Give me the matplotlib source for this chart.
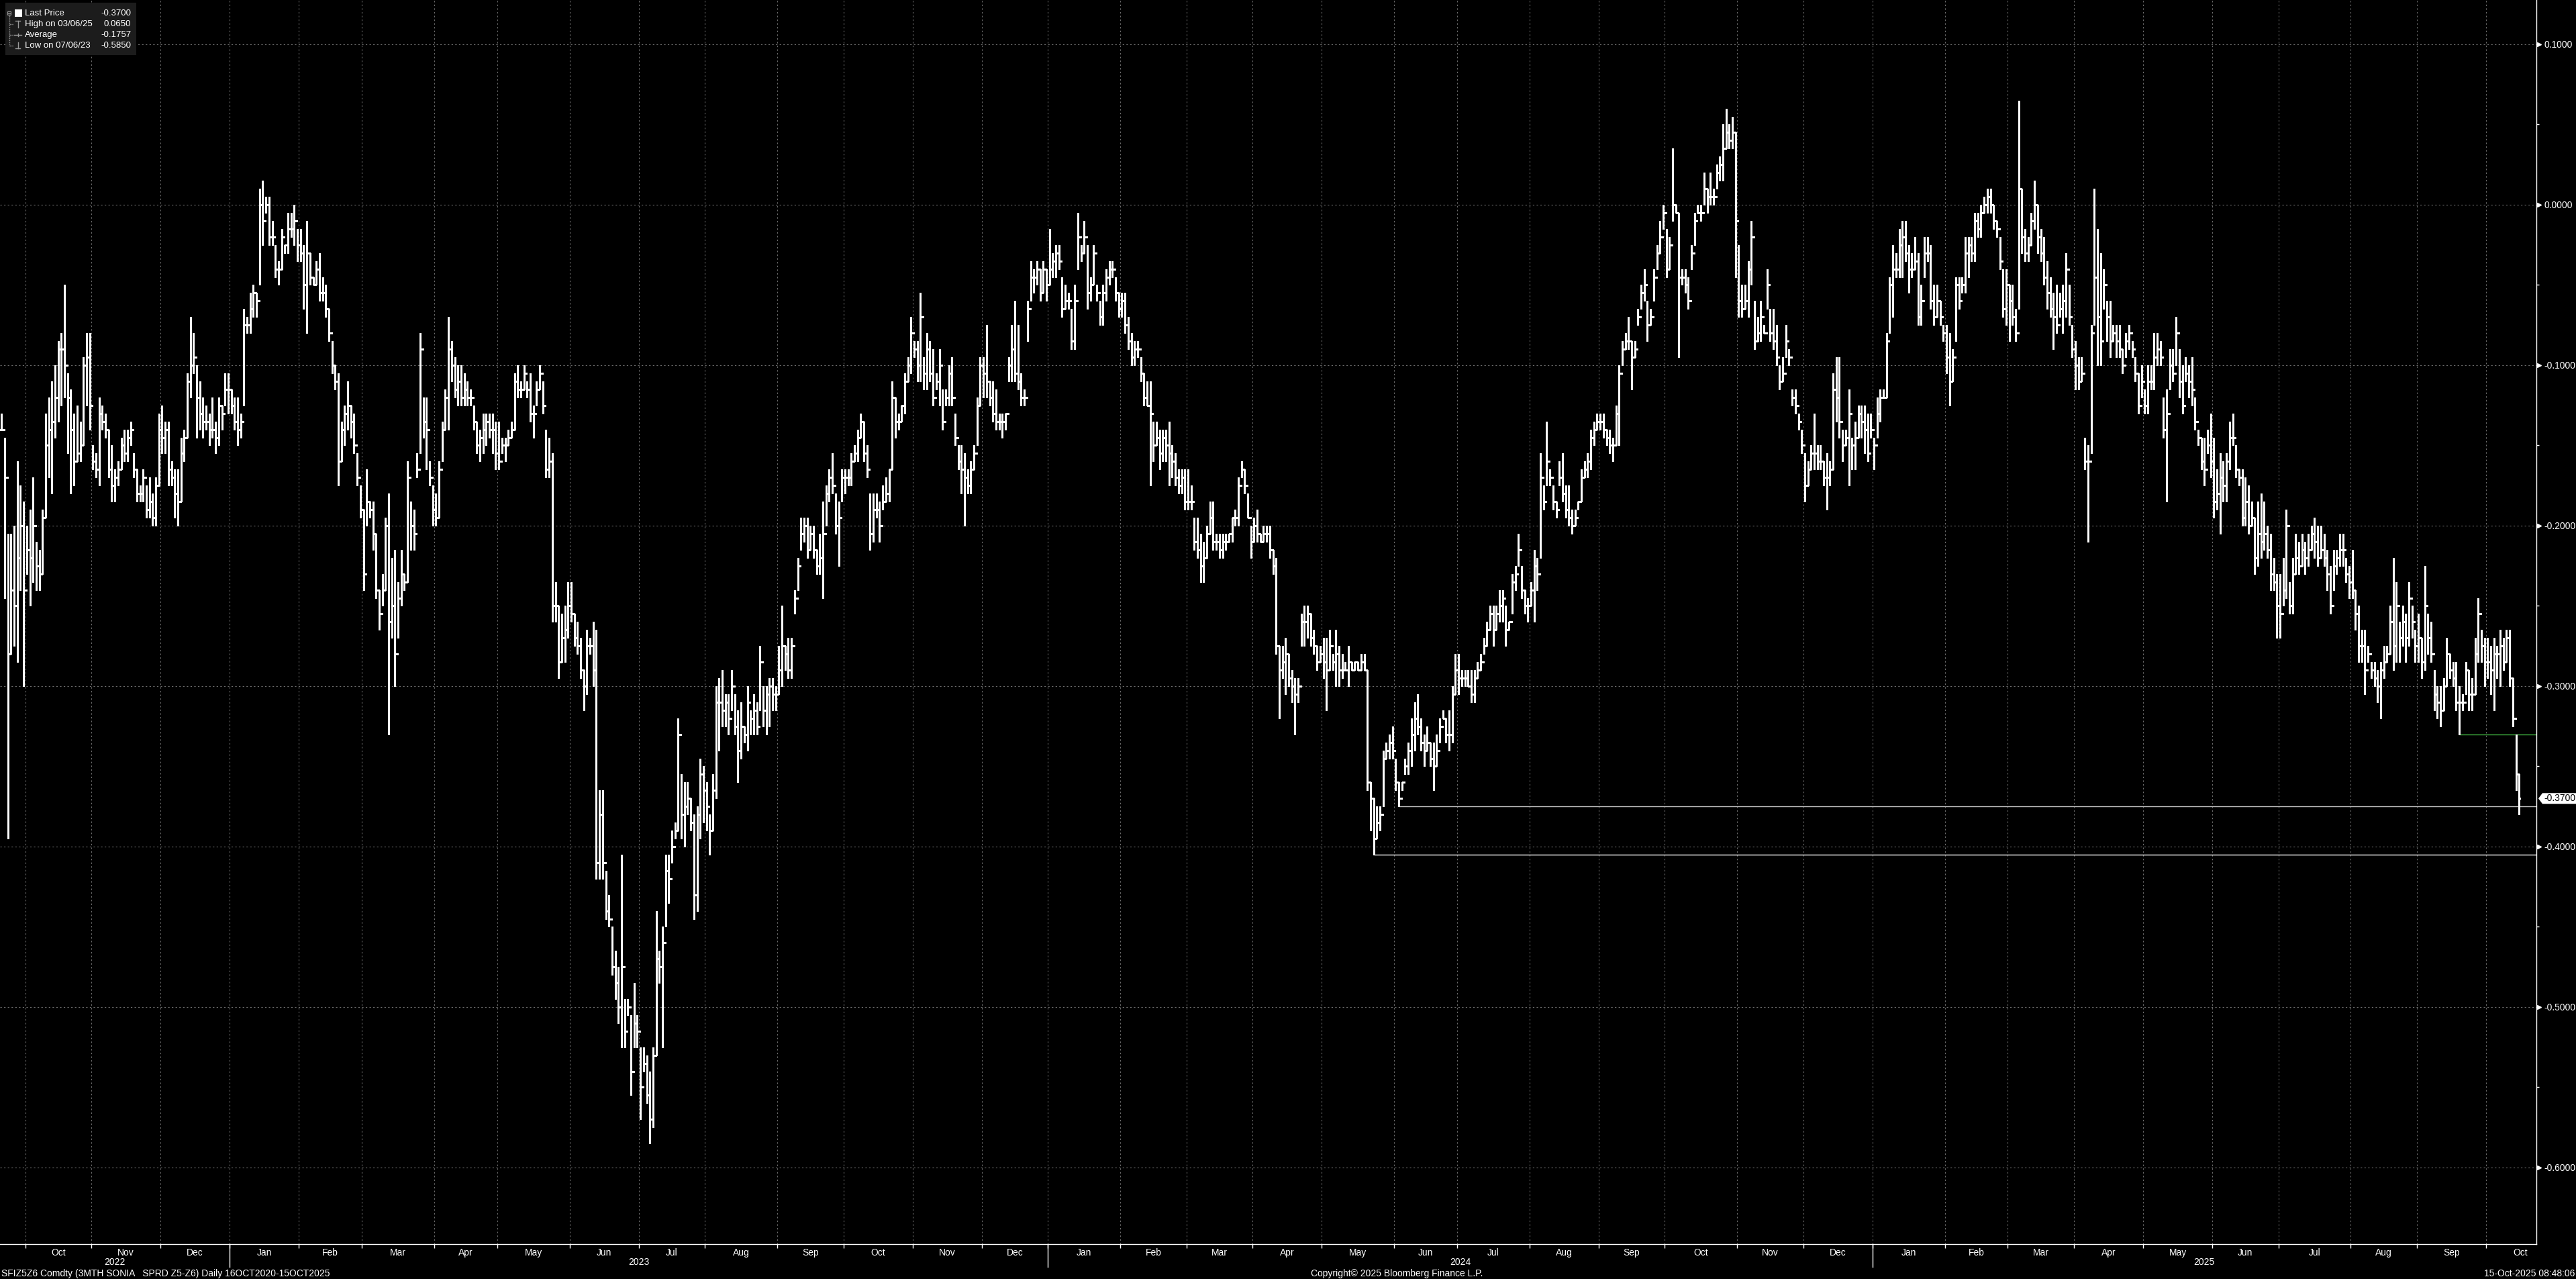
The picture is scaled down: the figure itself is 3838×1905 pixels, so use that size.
import numpy as np
import matplotlib
matplotlib.use("Agg")
import matplotlib.pyplot as plt
import matplotlib.transforms as mtransforms
from matplotlib.collections import LineCollection
from matplotlib.patches import Rectangle, Polygon
from matplotlib.ticker import FixedLocator

# daily bars as (high, low, close), in basis points, one list per month
sep22 = [(-13, -14, -14), (-14.5, -24.5, -17), (-20.5, -39.5, -28), (-20.5, -28, -24), (-20, -27.5, -25),
         (-16, -28.5, -22), (-17.5, -24, -20), (-18.5, -30, -24)]
oct22 = [(-20, -23, -21.5), (-19, -25, -22), (-17, -23.5, -20), (-21, -24, -22.5), (-21.5, -24, -23),
         (-19, -23, -19.5), (-13, -19.5, -15), (-12, -17, -14), (-11, -18, -13.5), (-10, -14.5, -12),
         (-8.5, -13.5, -9), (-8, -12.5, -9), (-5, -12, -10), (-10.5, -15.5, -12), (-11.5, -18, -14),
         (-13, -17.5, -16), (-12.5, -16, -15.5), (-13.5, -16, -15), (-9.5, -15, -10), (-8, -12.5, -9.5),
         (-8, -14, -12.5)]
nov22 = [(-15, -16.5, -16), (-15.5, -17, -16.5), (-12, -17.5, -13), (-12.5, -14, -13.5), (-13, -14.5, -14),
         (-14, -17, -16.5), (-15, -18.5, -17.5), (-16.5, -18.5, -17), (-16, -17.5, -16.5), (-14.5, -16.5, -15),
         (-14, -16, -15.5), (-14, -16, -14.5), (-13.5, -15, -14), (-15.5, -17, -16.5), (-16.5, -18.5, -18),
         (-17.5, -18.5, -18), (-16.5, -18.5, -17), (-17.5, -19.5, -19), (-17, -19.5, -18.5), (-18, -20, -19.5),
         (-17, -20, -17.5), (-13, -17.5, -14)]
dec22 = [(-12.5, -15.5, -14.5), (-13.5, -15.5, -14), (-13.5, -17.5, -16.5), (-16, -17.5, -17), (-16.5, -19.5, -18),
         (-16.5, -20, -18.5), (-14.5, -18.5, -15.5), (-14, -16, -14.5), (-10.5, -14.5, -11), (-7, -12, -10),
         (-8, -10.5, -9.5), (-10, -14.5, -12), (-11, -14, -13), (-12, -14.5, -13.5), (-12.5, -14, -13.5),
         (-13, -15, -14), (-12, -14.5, -14), (-13.5, -15.5, -14.5), (-12, -15, -12.5), (-12.5, -14, -13),
         (-10.5, -12.5, -11.5), (-10.5, -13, -11.5)]
jan23 = [(-11.5, -13, -12.5), (-12, -14, -13.5), (-12, -15, -14), (-13, -14.5, -13.5), (-6.5, -12.5, -7.5),
         (-7, -8, -7.5), (-5.5, -8, -6.5), (-5, -7, -5.5), (-5.5, -7, -6), (1, -5, 0),
         (1.5, -2.5, -1), (0.5, -0.5, 0), (0.5, -2.5, -2), (-1, -2.5, -2), (-2.5, -4.5, -4),
         (-3.5, -5, -4), (-1.5, -4, -2), (-2.5, -3, -2.5), (-0.5, -3, -1.5), (-0.5, -2, -1.5),
         (0, -2.5, -1), (-1.5, -3.5, -2.5)]
feb23 = [(-1.5, -3.5, -3), (-2.5, -6.5, -5), (-1, -8, -3), (-3, -5, -4.5), (-4.5, -5, -5),
         (-3.5, -5, -4), (-3, -6, -5.5), (-4.5, -6, -5.5), (-5, -7, -6.5), (-6.5, -8.5, -8),
         (-8.5, -10.5, -10), (-10, -11.5, -11), (-10.5, -17.5, -16), (-13.5, -16, -14), (-12.5, -15, -13),
         (-11, -14, -12.5), (-12.5, -14.5, -13.5), (-13, -15.5, -15), (-15.5, -17.5, -17), (-17.5, -19.5, -19)]
mar23 = [(-19, -24, -23), (-16.5, -20, -18.5), (-18.5, -19.5, -19), (-18.5, -21.5, -20.5), (-20.5, -24.5, -24),
         (-24, -26.5, -25.5), (-23, -25, -24), (-19.5, -24, -20), (-18, -33, -26), (-22, -27, -25),
         (-21.5, -30, -28), (-23.5, -27, -24.5), (-21.5, -25, -23), (-23, -24, -23.5), (-16, -23.5, -17),
         (-18.5, -21.5, -20), (-19, -21.5, -20.5), (-15.5, -17, -16.5), (-8, -15.5, -9), (-12, -14.5, -13.5),
         (-12, -16.5, -14), (-16, -17.5, -17), (-17.5, -20, -19)]
apr23 = [(-18, -20, -19.5), (-16, -19.5, -16.5), (-13.5, -16, -14), (-11.5, -14, -12), (-7, -14, -9),
         (-8.5, -11, -10), (-9.5, -12, -11.5), (-10, -12.5, -11), (-10, -12.5, -12), (-10.5, -12.5, -11.5),
         (-11, -12.5, -12), (-11.5, -12.5, -12), (-12.5, -14, -13.5), (-13.5, -15.5, -15), (-14, -16, -14.5),
         (-13, -15.5, -14), (-13, -15, -13.5), (-13, -14.5, -14), (-13, -15.5, -14), (-13.5, -16.5, -15.5)]
may23 = [(-13.5, -16.5, -16), (-14.5, -15.5, -15), (-14.5, -16, -15), (-14, -15, -14.5), (-13.5, -14.5, -14),
         (-10.5, -14, -11), (-10, -12, -11.5), (-11, -12, -11.5), (-10, -11.5, -10.5), (-11, -12, -11.5),
         (-10.5, -13.5, -13), (-12.5, -14.5, -13), (-11, -12.5, -11.5), (-10, -11.5, -10.5), (-11, -13, -12.5),
         (-14, -17, -16.5), (-14.5, -17, -16), (-15.5, -26, -25), (-23.5, -26, -25), (-25, -29.5, -28.5),
         (-25.5, -28.5, -27), (-25, -28.5, -26.5), (-23.5, -27, -25)]
jun23 = [(-23.5, -26, -25.5), (-25.5, -27.5, -27), (-26, -28, -27.5), (-27, -29.5, -29), (-29, -31.5, -30),
         (-26.5, -30.5, -27.5), (-27, -28, -27.5), (-26, -30, -29), (-26.5, -42, -41), (-36.5, -42, -38),
         (-36.5, -42, -41), (-41.5, -44.5, -44), (-43, -45, -44.5), (-45, -48, -47.5), (-46.5, -49.5, -48.5),
         (-47.5, -51, -50), (-40.5, -52.5, -47.5), (-49.5, -52.5, -51.5), (-49.5, -50.5, -50), (-50.5, -55.5, -54),
         (-48.5, -52.5, -51), (-50.5, -52.5, -51.5)]
jul23 = [(-52.5, -57, -55), (-52.5, -54, -53.5), (-53, -56, -55.5), (-54, -58.5, -57), (-52.5, -57.5, -53),
         (-44, -53, -47), (-46.5, -48.5, -47.5), (-45, -52.5, -46), (-40.5, -45, -41.5), (-40.5, -43.5, -42),
         (-39, -41, -40), (-38.5, -39.5, -39), (-32, -39, -33), (-35.5, -39.5, -38), (-36, -40, -37.5),
         (-36, -38, -37), (-37, -39, -38.5), (-38, -44.5, -43), (-37.5, -44, -38), (-34.5, -39.5, -35.5),
         (-35, -38.5, -36.5)]
aug23 = [(-36, -39, -37.5), (-38, -40.5, -39), (-35.5, -39, -36.5), (-30, -37, -31), (-29.5, -34, -31),
         (-29, -32.5, -31.5), (-30.5, -32.5, -31), (-30.5, -33, -32), (-29, -31.5, -30), (-30.5, -33, -32.5),
         (-31.5, -36, -34), (-31, -34.5, -32.5), (-32.5, -33.5, -33), (-30, -34, -31), (-31.5, -33, -32),
         (-30.5, -33, -31.5), (-31, -33, -32.5), (-27.5, -31.5, -28.5), (-30, -32.5, -31.5), (-30, -33, -30.5),
         (-29.5, -32.5, -30), (-29.5, -31.5, -30.5), (-30, -31.5, -30.5)]
sep23 = [(-27.5, -30.5, -29), (-25, -30, -27.5), (-27.5, -29, -28), (-27, -29.5, -29), (-27, -29.5, -27.5),
         (-24, -25.5, -24.5), (-22, -24, -22.5), (-19.5, -21.5, -20.5), (-19.5, -21, -20), (-19.5, -22, -21.5),
         (-20, -21.5, -20.5), (-20, -22, -21.5), (-21.5, -23, -22.5), (-20.5, -23, -22), (-18.5, -24.5, -20.5),
         (-17.5, -20, -18), (-16.5, -18.5, -17), (-15.5, -18, -17.5), (-18, -20.5, -20), (-18.5, -22.5, -19.5),
         (-16.5, -18.5, -17)]
oct23 = [(-16.5, -18, -17), (-16.5, -17.5, -17), (-15.5, -17.5, -16), (-15, -16, -15.5), (-14, -16, -14.5),
         (-13, -14.5, -13.5), (-13.5, -16, -15.5), (-15, -17, -16.5), (-18, -21.5, -20.5), (-18, -21, -19),
         (-18, -19.5, -19), (-18.5, -21, -20), (-17.5, -19, -18.5), (-17, -18.5, -18), (-16.5, -18.5, -16.5),
         (-11, -16.5, -12), (-12, -14.5, -13.5), (-13, -14, -13.5), (-12.5, -13.5, -12.5), (-10.5, -13, -11),
         (-9.5, -11, -10), (-7, -10.5, -8)]
nov23 = [(-8.5, -9.5, -9), (-8.5, -11, -10), (-5.5, -11, -7), (-9.5, -11.5, -10.5), (-8, -11.5, -9),
         (-8.5, -11, -10.5), (-9, -12.5, -12), (-10.5, -11.5, -11), (-9, -12.5, -10), (-11.5, -14, -13.5),
         (-11.5, -12.5, -12), (-10, -12.5, -10.5), (-9.5, -12.5, -12), (-13, -15, -14.5), (-15, -16.5, -16),
         (-15, -18, -16.5), (-15.5, -20, -17), (-16.5, -18, -17.5), (-16, -18, -16.5), (-15, -16.5, -15.5),
         (-12, -15, -12.5), (-9.5, -12.5, -10)]
dec23 = [(-9.5, -12, -10.5), (-7.5, -12, -11), (-11, -12.5, -12), (-11, -13.5, -13), (-11.5, -14, -13.5),
         (-13, -14, -13.5), (-13, -14.5, -13.5), (-13, -14, -13), (-9.5, -11, -10), (-7.5, -11, -9),
         (-6, -11, -10.5), (-7.5, -11.5, -11), (-10.5, -12.5, -12), (-11.5, -12.5, -12), (-6, -8.5, -6.5),
         (-3.5, -6, -4.5), (-4, -5.5, -4.5), (-3.5, -5, -4), (-4, -6, -5.5), (-3.5, -5.5, -4),
         (-4, -6, -5)]
jan24 = [(-1.5, -5, -4), (-3, -4.5, -3.5), (-2.5, -4.5, -3), (-2.5, -4, -3.5), (-4.5, -7, -6.5),
         (-5, -6.5, -6), (-5.5, -6.5, -6), (-6.5, -9, -8.5), (-5, -9, -6), (-0.5, -4, -2),
         (-2.5, -3.5, -3), (-1, -3, -2), (-2.5, -6.5, -5.5), (-4.5, -6, -5), (-2.5, -5, -3),
         (-5, -6, -5.5), (-6, -7.5, -7), (-5, -7.5, -5.5), (-4, -6, -4.5), (-3.5, -5, -4),
         (-3.5, -4.5, -4), (-4.5, -6, -5.5), (-5.5, -7, -6.5)]
feb24 = [(-5.5, -7, -6), (-5.5, -8, -7.5), (-7, -9, -8.5), (-8, -10, -9.5), (-8.5, -10, -9),
         (-8.5, -9.5, -9), (-9.5, -11, -10.5), (-10.5, -12.5, -12), (-11, -12.5, -12.5), (-11, -17.5, -13),
         (-13.5, -16, -15), (-13.5, -15, -14.5), (-14, -16.5, -15.5), (-14, -16, -14.5), (-14, -16, -15),
         (-13.5, -17.5, -15.5), (-15, -17, -16), (-15.5, -17.5, -17), (-16.5, -18, -17.5), (-16.5, -18, -17),
         (-16.5, -19, -18.5)]
mar24 = [(-16.5, -19, -18.5), (-17.5, -19, -18.5), (-19.5, -21.5, -21), (-19.5, -22, -21.5), (-20.5, -23.5, -22.5),
         (-21, -23.5, -22), (-20, -22, -20.5), (-18.5, -20.5, -19.5), (-18.5, -21.5, -21), (-20.5, -21.5, -21),
         (-20.5, -22, -21.5), (-20.5, -22, -21), (-20.5, -21.5, -21), (-20.5, -21, -20.5), (-19.5, -21, -19.5),
         (-19, -20, -19.5), (-17, -20, -17.5), (-16, -17, -16.5), (-16.5, -18, -17.5), (-18, -19.5, -19.5),
         (-20, -22, -21)]
apr24 = [(-19.5, -21, -20), (-19, -21, -20.5), (-20.5, -21, -21), (-20, -21, -20.5), (-20, -21, -20.5),
         (-20, -22, -21.5), (-21.5, -23, -22.5), (-22, -28, -27.5), (-27.5, -32, -29), (-27.5, -29.5, -28.5),
         (-27, -30.5, -28), (-28, -30, -29.5), (-29, -31, -30), (-29.5, -33, -30.5), (-29.5, -31, -30),
         (-25.5, -27.5, -26), (-25, -27.5, -26), (-25, -27, -25.5), (-25.5, -27.5, -27), (-26.5, -28, -27.5),
         (-27.5, -29, -28.5), (-27.5, -28.5, -28)]
may24 = [(-27, -29.5, -28.5), (-27, -31.5, -29), (-26.5, -29, -27.5), (-28, -29, -28.5), (-26.5, -30, -28),
         (-27.5, -30, -29), (-28, -29.5, -29), (-28.5, -29, -29), (-27.5, -30, -28.5), (-28.5, -29, -29),
         (-28.5, -29, -28.5), (-28.5, -29, -29), (-28, -29, -28.5), (-28, -29, -29), (-29, -36.5, -36),
         (-36, -39, -37), (-37, -40.5, -39.5), (-37.5, -39.5, -38.5), (-37.5, -39, -38), (-34, -37.5, -34.5),
         (-33.5, -34.5, -34), (-33, -34.5, -33.5), (-32.5, -34.5, -34)]
jun24 = [(-34.5, -36.5, -36), (-36, -37.5, -37), (-36, -36.5, -36), (-34.5, -35.5, -35), (-33.5, -35.5, -34),
         (-32, -35, -33), (-31, -34, -32), (-30.5, -33, -32.5), (-32, -34, -33.5), (-33, -35, -34),
         (-32.5, -34, -33.5), (-33.5, -35, -34.5), (-33.5, -36.5, -35), (-33, -35, -34), (-32, -33.5, -32.5),
         (-31.5, -32, -32), (-32, -33.5, -33), (-31.5, -34, -33), (-30, -33.5, -30.5), (-28, -30.5, -29)]
jul24 = [(-28, -30.5, -29.5), (-29, -30, -29.5), (-29, -30, -29.5), (-29, -30, -30), (-29, -31, -30.5),
         (-29, -31, -29.5), (-28.5, -29.5, -29), (-28, -29, -28.5), (-27, -28, -27.5), (-26, -27.5, -26.5),
         (-25, -26.5, -25.5), (-25, -27.5, -26.5), (-25, -26.5, -25.5), (-24, -26, -25), (-24, -26, -24.5),
         (-25, -27.5, -26.5), (-26, -26.5, -26), (-23, -25.5, -23.5), (-22.5, -24, -23), (-20.5, -22.5, -21.5),
         (-22.5, -24.5, -24), (-24, -25.5, -25), (-24.5, -26, -25)]
aug24 = [(-23.5, -25, -24), (-21.5, -26, -22.5), (-22, -24, -23), (-15.5, -22, -17), (-17.5, -19, -18.5),
         (-13.5, -17.5, -16), (-16.5, -17.5, -17), (-17.5, -19, -18.5), (-18.5, -19.5, -19), (-16, -17.5, -17),
         (-15.5, -18.5, -18), (-17.5, -19.5, -19), (-17.5, -20, -19.5), (-19, -20.5, -20), (-19, -20, -19.5),
         (-18.5, -19, -18.5), (-16.5, -18.5, -17), (-16, -17, -16.5), (-15.5, -17, -16), (-14, -16.5, -14.5),
         (-13.5, -15, -14), (-13, -14, -13.5)]
sep24 = [(-13, -14, -13.5), (-13, -14.5, -14), (-14, -15, -14.5), (-14, -15.5, -15), (-14.5, -16, -15),
         (-12.5, -15, -13), (-10, -15, -10.5), (-8.5, -10, -9), (-8, -9, -8.5), (-7, -9, -8.5),
         (-8.5, -11.5, -9.5), (-8.5, -9.5, -9), (-6.5, -7.5, -7), (-5, -6.5, -5.5), (-4, -6, -5),
         (-6, -8.5, -7.5), (-6.5, -7.5, -7), (-4, -6, -4.5), (-2.5, -4, -3), (-1, -3, -2),
         (0, -1.5, -0.5)]
oct24 = [(-1.5, -4.5, -4), (-2, -4, -2.5), (3.5, -1, 0), (0, -0.5, -0.5), (-0.5, -9.5, -4.5),
         (-4, -5, -4.5), (-4, -5.5, -5), (-4.5, -6.5, -6), (-2.5, -4, -3), (-0.5, -2.5, -1),
         (0, -0.5, -0.5), (0, -1, -0.5), (2, 0, 1), (1, -0.5, 0.5), (2, 0, 0.5),
         (1, 0, 0.5), (2.5, 1, 2), (3, 1.5, 2.5), (5, 1.5, 3.5), (6, 3.5, 4.5),
         (5, 3.5, 4), (5.5, 3.5, 4.5), (4.5, -4.5, -1)]
nov24 = [(-2.5, -7, -6), (-5, -7, -6.5), (-5, -6.5, -6), (-3.5, -7, -4), (-1, -5, -2),
         (-6, -9, -8.5), (-7, -8.5, -8), (-6, -8.5, -7), (-7.5, -8, -8), (-4, -6.5, -5),
         (-6.5, -8.5, -8), (-6.5, -9, -8.5), (-7.5, -10, -9.5), (-10, -11.5, -11), (-9.5, -11, -10.5),
         (-7.5, -9.5, -8.5), (-9, -10, -9.5), (-11.5, -12.5, -12), (-11.5, -13, -12.5), (-13, -14, -13.5),
         (-14, -15.5, -15)]
dec24 = [(-15.5, -18.5, -17.5), (-16, -17.5, -16.5), (-15, -16.5, -15.5), (-13, -16.5, -15.5), (-15, -16.5, -16),
         (-15, -16.5, -16), (-16, -17.5, -17), (-15.5, -19, -17), (-16, -17.5, -16.5), (-10.5, -16.5, -11.5),
         (-9.5, -13.5, -12), (-9.5, -14.5, -13.5), (-14, -16, -15), (-14, -15, -14.5), (-11.5, -17.5, -13),
         (-14.5, -16.5, -15), (-13.5, -16.5, -14.5), (-12.5, -14.5, -13), (-12.5, -14.5, -13.5), (-12.5, -15.5, -14),
         (-13, -16, -15.5), (-13, -14.5, -14)]
jan25 = [(-14.5, -16.5, -15), (-12, -14.5, -13), (-11.5, -13.5, -12), (-11.5, -12, -12), (-8, -12, -8.5),
         (-4.5, -8, -5), (-2.5, -7, -4), (-3, -4.5, -4), (-1.5, -4.5, -2.5), (-1, -4.5, -2),
         (-1, -3.5, -3), (-2.5, -5.5, -4), (-3, -4.5, -4), (-2, -4, -3.5), (-3, -7.5, -7),
         (-5, -7.5, -6), (-2, -4.5, -3), (-2, -3.5, -3), (-2.5, -6.5, -6), (-5, -7.5, -7),
         (-5, -7, -6), (-6, -7.5, -7), (-7.5, -8.5, -8)]
feb25 = [(-7.5, -10.5, -9.5), (-8, -12.5, -11), (-9, -11, -9.5), (-4.5, -8.5, -5), (-4.5, -6.5, -6),
         (-4.5, -5.5, -5), (-2, -5.5, -3), (-2, -4.5, -2.5), (-2, -3.5, -3), (-0.5, -3.5, -1),
         (-0.5, -2, -1.5), (0, -2, -0.5), (0.5, -0.5, 0), (1, -0.5, 0.5), (1, -0.5, 0),
         (0, -1.5, -1), (-1, -2, -1.5), (-2, -4, -3.5), (-4, -7, -6.5), (-4, -7.5, -5)]
mar25 = [(-5, -8.5, -6), (-5, -7.5, -7), (-6.5, -8.5, -8), (6.5, -6.5, 1), (1, -3, -2),
         (-1.5, -3.5, -3), (-2, -3.5, -2.5), (-0.5, -2.5, -1), (1.5, -1.5, 0), (0, -3, -2),
         (-1.5, -3.5, -3), (-2, -5, -4.5), (-3.5, -6.5, -5.5), (-4.5, -7, -6.5), (-5.5, -9, -7),
         (-5, -8, -7.5), (-5.5, -7, -6.5), (-5, -8, -6), (-3, -7, -4), (-5, -7.5, -7),
         (-7.5, -9.5, -9)]
apr25 = [(-8.5, -11.5, -10), (-9.5, -11.5, -11), (-9.5, -11, -10.5), (-14.5, -16.5, -16), (-15, -21, -16),
         (-7.5, -15.5, -8), (1, -7.5, -4.5), (-1.5, -10, -7), (-3, -10, -8.5), (-4, -6.5, -5),
         (-6, -8.5, -7), (-6, -9.5, -8.5), (-7.5, -8.5, -8), (-7.5, -9.5, -8.5), (-7.5, -9.5, -9),
         (-9, -10.5, -10), (-8, -9.5, -8.5), (-7.5, -9, -8), (-8.5, -9.5, -9), (-9.5, -11, -10.5),
         (-10.5, -13, -12.5), (-10, -12, -11)]
may25 = [(-11.5, -13, -12.5), (-10, -13, -11), (-10, -11.5, -11), (-8, -11.5, -9.5), (-8, -10, -9),
         (-8.5, -10, -9.5), (-12, -14.5, -14), (-11.5, -18.5, -13), (-9, -11.5, -10), (-9, -11, -10.5),
         (-7, -10, -8), (-9, -12, -11), (-10, -13, -12.5), (-9.5, -11, -10.5), (-10, -12, -11),
         (-9.5, -12.5, -11.5), (-12, -14, -13.5), (-14, -15, -14.5), (-14.5, -16.5, -16), (-14.5, -17.5, -16.5),
         (-14, -15.5, -15), (-13, -17, -16)]
jun25 = [(-14.5, -19.5, -18.5), (-16.5, -19, -18), (-15.5, -20.5, -17), (-16, -18.5, -17.5), (-15.5, -18.5, -16),
         (-13.5, -16.5, -14.5), (-13, -15, -14.5), (-15, -17, -16.5), (-16.5, -17.5, -17), (-16.5, -20, -19.5),
         (-17, -20, -18.5), (-17.5, -20.5, -20), (-18.5, -20, -19.5), (-19.5, -23, -22), (-18.5, -22.5, -20.5),
         (-18, -22, -21), (-18.5, -21.5, -20.5), (-20, -22, -21.5), (-20.5, -24, -23), (-22, -24, -23.5),
         (-23, -27, -25)]
jul25 = [(-23, -27, -25.5), (-22, -25, -24), (-19, -24.5, -20), (-23.5, -25.5, -25), (-22, -25.5, -23),
         (-20.5, -23, -22), (-21, -23, -22.5), (-20.5, -22.5, -21.5), (-21, -23, -22), (-20.5, -22.5, -21.5),
         (-20, -21.5, -20.5), (-19.5, -22, -21), (-20, -22.5, -22), (-20, -22, -21.5), (-20.5, -22.5, -22),
         (-21.5, -24, -23), (-22.5, -25.5, -25), (-21.5, -24, -22.5), (-21.5, -23, -22), (-20.5, -22.5, -21.5),
         (-20.5, -22.5, -21.5), (-22, -23.5, -23), (-22.5, -24.5, -23.5)]
aug25 = [(-21.5, -24.5, -24), (-24, -26.5, -25.5), (-25, -28.5, -27.5), (-26.5, -28.5, -27.5), (-26.5, -30.5, -29),
         (-27.5, -28.5, -28), (-28.5, -29.5, -29), (-28.5, -30, -29.5), (-29, -31, -30), (-28.5, -32, -29),
         (-27.5, -29.5, -28.5), (-27.5, -28.5, -28), (-25, -28, -26), (-22, -29, -27.5), (-23.5, -28.5, -25),
         (-26, -28.5, -27), (-25, -27.5, -26), (-25.5, -28.5, -27), (-23.5, -27.5, -24.5), (-25, -27, -26),
         (-26.5, -28.5, -27.5)]
sep25 = [(-25.5, -28.5, -27), (-27, -29.5, -28.5), (-22.5, -29, -25), (-25.5, -28, -27), (-26, -28.5, -28),
         (-29, -31.5, -30.5), (-30, -32, -31), (-30, -32.5, -31.5), (-29.5, -31.5, -30), (-27, -30, -28),
         (-28, -29.5, -29), (-28.5, -30, -29.5), (-28.5, -31.5, -31), (-30, -33, -31), (-30.5, -31.5, -31),
         (-28.5, -30.5, -29), (-29, -31.5, -30.5), (-29.5, -31.5, -30.5), (-27, -30.5, -28), (-24.5, -28.5, -25.5),
         (-26.5, -28.5, -27.5), (-27, -30, -28.5)]
oct25 = [(-27, -29.5, -28.5), (-27.5, -30.5, -29), (-27, -31.5, -28), (-27.5, -29.5, -28), (-26.5, -30, -27.5),
         (-27, -29, -28.5), (-26.5, -28.5, -27), (-26.5, -30, -29.5), (-29.5, -32.5, -32), (-33, -36.5, -35.5),
         (-35.5, -38, -37)]

months = [sep22, oct22, nov22, dec22, jan23, feb23, mar23, apr23, may23, jun23, jul23, aug23, sep23,
          oct23, nov23, dec23, jan24, feb24, mar24, apr24, may24, jun24, jul24, aug24, sep24, oct24,
          nov24, dec24, jan25, feb25, mar25, apr25, may25, jun25, jul25, aug25, sep25, oct25]
month_names = ['Sep', 'Oct', 'Nov', 'Dec', 'Jan', 'Feb', 'Mar', 'Apr', 'May', 'Jun', 'Jul', 'Aug']
years = ['2022', '2023', '2024', '2025']
y_ticks = [-0.6, -0.5, -0.4, -0.3, -0.2, -0.1, 0.0, 0.1]

# reference lines (value, month index, day index in month, colour)
level_lines = [(-0.405, 20, 16, '#ffffff'), (-0.375, 21, 1, '#c8c8c8'), (-0.33, 36, 13, '#3faf3f')]
last_price = -0.37
legend_rows = [('Last Price', '-0.3700'), ('High on 03/06/25', '0.0650'),
               ('Average', '-0.1757'), ('Low on 07/06/23', '-0.5850')]

W, H = 3838, 1905
def fx(x):
    return x / W
def fy(y):
    return 1 - y / H

narrow = ['Liberation Sans Narrow', 'Liberation Sans', 'DejaVu Sans']
plain = ['Liberation Sans', 'DejaVu Sans']
plt.rcParams['font.family'] = plain

bars = [b for m in months for b in m]
high = np.array([b[0] for b in bars]) / 100
low = np.array([b[1] for b in bars]) / 100
close = np.array([b[2] for b in bars]) / 100
opn = np.r_[close[0], close[:-1]]
n = len(bars)
x = np.arange(n)
starts = np.cumsum([0] + [len(m) for m in months])[:-1]

fig = plt.figure(figsize=(W / 100, H / 100), dpi=100, facecolor='black')
ax = fig.add_axes([0, fy(1853), 3779 / W, 1853 / H])
ax.set_facecolor('black')
xmax = n - 0.5 + 5
ymin, ymax = -0.6477, 0.1276
ax.set_xlim(-0.5, xmax)
ax.set_ylim(ymin, ymax)

grid_c = '#6c6c6c'
ax.hlines(y_ticks, -0.5, xmax, colors=grid_c, linestyles=(0, (2, 3)), lw=0.8, zorder=1)
ax.vlines(starts[1:] - 0.5, ymin, ymax, colors=grid_c, linestyles=(0, (2, 3)), lw=0.8, zorder=1)

segs = [[(xi, lo), (xi, hi)] for xi, lo, hi in zip(x, low, high)]
segs += [[(xi - 0.45, o), (xi, o)] for xi, o in zip(x, opn)]
segs += [[(xi, c), (xi + 0.45, c)] for xi, c in zip(x, close)]
ax.add_collection(LineCollection(segs, colors='white', linewidths=0.8, antialiaseds=False, zorder=3))

for val, mi, di, col in level_lines:
    ax.hlines(val, starts[mi] + di, xmax, colors=col, lw=1.0, zorder=2)

for s in ['top', 'left']:
    ax.spines[s].set_visible(False)
for s in ['right', 'bottom']:
    ax.spines[s].set_color('white')
    ax.spines[s].set_linewidth(1.0)

# right value axis
ax.yaxis.tick_right()
ax.set_yticks(y_ticks)
ax.set_yticklabels([f'{v:.4f}' for v in y_ticks], color='white', fontsize=10, family=plain)
ax.yaxis.set_minor_locator(FixedLocator([v - 0.05 for v in y_ticks]))
ax.tick_params(axis='y', which='major', length=0, pad=8)
ax.tick_params(axis='y', which='minor', length=3, width=1, color='white')
yblend = mtransforms.blended_transform_factory(ax.transAxes, ax.transData)
ax.plot(np.full(len(y_ticks), 1 + 4 / 3779), y_ticks, ls='none', marker='>', ms=5,
        color='white', transform=yblend, clip_on=False, zorder=5)

# month / year axis
xblend = mtransforms.blended_transform_factory(ax.transData, ax.transAxes)
ax.set_xticks(starts[1:] - 0.5)
ax.set_xticklabels([])
ax.tick_params(axis='x', length=4, width=1, color='white', direction='out')
for i in range(1, len(months)):
    span = len(months[i]) if i < len(months) - 1 else 22
    ax.text(starts[i] - 0.5 + span / 2, -13 / 1853, month_names[i % 12], transform=xblend,
            ha='center', va='center', color='white', fontsize=10, family=narrow)
jan_idx = [i for i in range(len(months)) if i % 12 == 4]
bounds = [-0.5] + [starts[i] - 0.5 for i in jan_idx] + [xmax]
for k, yr in enumerate(years):
    ax.text((bounds[k] + bounds[k + 1]) / 2, -27 / 1853, yr, transform=xblend, ha='center',
            va='center', color='white', fontsize=10, family=narrow)
for i in jan_idx:
    ax.plot([starts[i] - 0.5] * 2, [0, -34 / 1853], transform=xblend, color='white', lw=1,
            clip_on=False)

# last price tag on the value axis
ty = ax.transData.transform((0, last_price))[1] / fig.bbox.height
th = 8 / H
fig.patches.append(Polygon([(fx(3782), ty), (fx(3788), ty + th), (1.0, ty + th), (1.0, ty - th),
                            (fx(3788), ty - th)], closed=True, facecolor='white', edgecolor='none',
                           transform=fig.transFigure, figure=fig))
fig.text(fx(3790), ty, f'{last_price:.4f}', color='black', fontsize=10, ha='left', va='center',
         family=plain)

# legend panel
fig.patches.append(Rectangle((fx(8), fy(82)), 195 / W, 78 / H, facecolor='#1c1c1c', edgecolor='none',
                             transform=fig.transFigure, figure=fig))
gc = '#9a9a9a'
def seg(x0, y0, x1, y1, col=gc, lw=1.0, ls='-'):
    fig.add_artist(plt.Line2D([fx(x0), fx(x1)], [fy(y0), fy(y1)], color=col, lw=lw, ls=ls,
                              transform=fig.transFigure))
fig.patches.append(Rectangle((fx(11), fy(22)), 5 / W, 5 / H, facecolor='none', edgecolor=gc, lw=0.8,
                             transform=fig.transFigure, figure=fig))
seg(12, 19.5, 15, 19.5)
seg(13.5, 23, 13.5, 68, ls=(0, (1, 1)))
for ry in (36, 52, 68):
    seg(13.5, ry, 20, ry, ls=(0, (1, 1)))
fig.patches.append(Rectangle((fx(22), fy(25)), 11 / W, 11 / H, facecolor='white', edgecolor='none',
                             transform=fig.transFigure, figure=fig))
seg(23, 31, 30, 31)
seg(26.5, 31, 26.5, 41)
seg(21, 52, 32, 52)
seg(26.5, 50, 26.5, 54)
seg(26.5, 63, 26.5, 72)
seg(23, 72, 30, 72)
for k, (lab, val) in enumerate(legend_rows):
    ry = 20 + 16 * k
    fig.text(fx(37), fy(ry), lab, color='white', fontsize=9.5, ha='left', va='center')
    fig.text(fx(195), fy(ry), val, color='white', fontsize=9.5, ha='right', va='center')

# footer
fig.text(fx(2), fy(1897), 'SFIZ5Z6 Comdty (3MTH SONIA   SPRD Z5-Z6) Daily 16OCT2020-15OCT2025',
         color='white', fontsize=10, ha='left', va='center', family=narrow)
fig.text(fx(1953), fy(1897), 'Copyright\u00a9 2025 Bloomberg Finance L.P.', color='white', fontsize=10,
         ha='left', va='center', family=narrow)
fig.text(fx(3836), fy(1897), '15-Oct-2025 08:48:06', color='white', fontsize=10, ha='right',
         va='center', family=narrow)

fig.savefig('out.png', dpi=100, facecolor='black')
